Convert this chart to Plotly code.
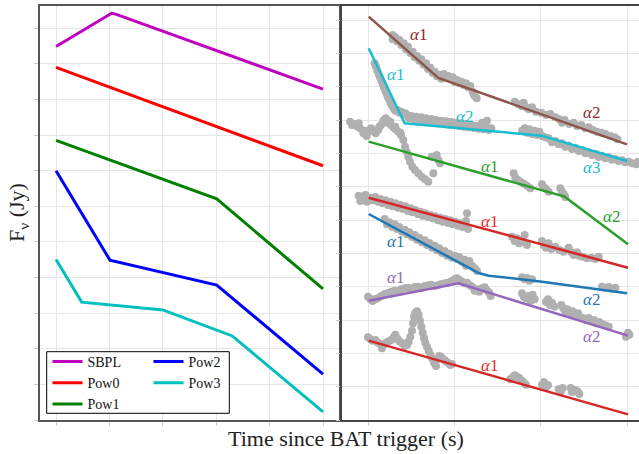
import plotly.graph_objects as go

# ---------------- Left panel: model light-curve shapes ----------------
sbpl_t = [0, 0.95, 1.04, 1.13, 5]
sbpl_f = [10.49, 11.36, 11.42, 11.39, 9.29]
pow0_t = [0, 5]
pow0_f = [9.90, 7.14]
pow1_t = [0, 3.01, 5]
pow1_f = [7.85, 6.21, 3.68]
pow2_t = [0, 1.01, 3.01, 5]
pow2_f = [7.00, 4.49, 3.79, 1.29]
pow3_t = [0, 0.48, 2.0, 3.30, 5]
pow3_f = [4.51, 3.31, 3.09, 2.36, 0.23]

# ---------------- Right panel: observed light curves (arbitrary units) ----------------
brown_dt = [152,152,160,165,172,178,185,192,198,205,212,218,225,232,238,245,252,258,265,272,278,285,292,298,305,312,318,325,332,338,345,352,358,365,372,378,385,392,398,404,395,
            518,528,538,545,552,560,570,582,598,612,625,640,652,660,668,682,695,705,718,730,740,752,765,778,790,805,818,826]
brown_df = [1155,1142,1148,1136,1140,1125,1130,1112,1120,1101,1105,1088,1092,1078,1082,1066,1070,1053,1057,1041,1045,1031,1035,1024,1038,1028,1032,1022,1028,1014,1020,1010,1015,1005,1010,998,1002,985,972,965,978,
            955,948,942,952,938,932,938,925,922,915,918,908,902,892,900,888,892,882,885,875,878,870,865,862,858,852,848,842]

cyan_dt = [98,102,106,110,114,118,122,126,130,134,138,142,146,150,155,160,166,172,178,184,190,
           195,200,208,215,222,230,238,245,252,260,268,275,282,290,298,305,312,320,328,335,342,350,358,365,372,380,388,395,402,410,418,425,432,440,448,435,420,
           540,548,555,562,570,578,585,592,600,610,620,
           630,640,650,660,670,680,690,700,710,720,730,740,750,760,770,780,790,800,810,820,830,840,850,860,870,882,888]
cyan_df = [1070,1060,1048,1038,1028,1018,1008,998,988,978,968,960,950,942,935,928,930,922,925,918,920,
           915,905,912,902,910,900,908,898,905,895,903,893,900,890,898,888,896,886,894,885,892,882,890,880,888,878,885,876,883,874,880,872,878,870,875,898,892,
           868,875,862,872,858,868,855,865,852,848,845,
           833,837,827,830,820,823,813,817,807,810,800,803,795,798,789,793,785,788,781,783,777,779,773,775,770,767,775]

green_dt = [24,34,44,54,64,74,79,87,94,101,109,117,124,131,139,147,154,161,169,177,184,189,194,199,204,211,219,229,239,249,259,269,274,284,289,294,
            30,50,70,90,112,128,145,160,175,
            515,520,528,535,545,555,565,600,605,612,620,655,660,665,670]
green_df = [895,888,882,875,860,852,865,875,868,860,870,885,898,905,898,885,878,872,865,855,840,820,805,790,775,760,750,740,730,722,715,790,740,795,780,770,
            885,890,868,870,880,892,895,880,862,
            740,727,720,715,709,703,695,707,699,693,685,695,685,677,669]

redu_dt = [50,55,62,70,75,85,92,100,108,115,122,130,138,145,152,160,168,175,182,190,198,205,212,220,228,235,242,250,258,265,272,280,288,295,302,310,318,325,332,340,348,355,362,370,375,378,372,
           510,518,525,532,540,548,555,600,605,612,620,628,640,652,665,680,688,695,705,712,722,735,748,760,770]
redu_df = [673,657,665,675,655,667,659,669,655,663,650,659,645,655,641,650,637,645,633,641,627,635,623,630,617,625,613,620,609,615,605,611,599,607,595,603,591,599,587,595,583,590,579,585,620,573,597,
           550,537,545,530,537,555,525,537,525,517,530,513,520,510,505,517,503,495,503,493,490,485,487,483,490]

blue_dt = [128,135,142,150,158,165,172,180,188,195,202,210,218,225,232,240,248,255,262,270,278,285,292,300,308,315,322,330,338,345,352,360,368,375,382,390,398,405,372,
           540,548,555,562,570,780,790,800,810,820]
blue_df = [603,587,593,580,587,573,579,565,571,557,563,549,555,541,547,533,539,525,531,517,523,509,515,501,507,493,499,487,493,483,489,475,481,470,477,463,455,447,463,
           428,422,426,418,422,400,396,399,394,397]

purple_dt = [78,85,92,100,108,118,128,138,148,158,168,178,188,198,208,218,228,238,248,258,268,278,288,298,308,318,328,338,345,352,360,368,375,382,390,398,405,412,420,428,436,442,446,
             540,545,552,560,566,572,578,612,618,624,630,638,658,664,670,676,684,692,700,708,716,724,732,740,748,756,764,772,780,790,800,852,858,862]
purple_df = [370,363,357,362,366,372,378,381,385,388,387,392,395,397,393,399,400,397,402,404,406,402,404,408,410,412,416,422,425,420,415,410,412,405,400,388,392,385,395,398,388,382,372,
             380,370,365,372,358,376,362,355,362,345,352,340,345,335,325,332,320,326,315,320,308,305,300,306,296,300,290,294,288,284,280,250,262,256]

redl_dt = [78,85,92,100,108,115,120,125,132,140,148,155,160,166,172,180,188,195,200,205,210,213,216,220,225,230,234,238,242,246,250,255,260,265,270,276,282,286,292,298,304,310,318,325,330,
           505,512,518,525,532,540,546,552,600,606,612,618,650,656,662,686,690,698,706,712]
redl_df = [248,242,238,240,232,228,215,226,232,236,240,248,256,244,236,230,222,225,235,250,268,290,310,322,326,316,298,280,262,246,232,220,208,196,186,172,162,182,192,188,182,178,172,165,168,
           122,128,134,130,126,118,112,106,106,114,98,104,92,84,96,96,84,90,86,78]

# fitted broken power laws (right panel)
brown_fit_t = [80, 289, 855]
brown_fit_f = [1210, 1026, 827]
cyan_fit_t = [80, 188, 599, 855]
cyan_fit_f = [1115, 890, 853, 777]
green_fit_t = [80, 668, 858]
green_fit_f = [835, 670, 527]
redu_fit_t = [80, 858]
redu_fit_f = [667, 457]
blue_fit_t = [80, 380, 410, 440, 480, 600, 855]
blue_fit_f = [618, 458, 441, 433, 428, 415, 380]
purple_fit_t = [80, 350, 858]
purple_fit_f = [358, 410, 253]
redl_fit_t = [80, 858]
redl_fit_f = [238, 17]

# slope labels
label_text = ["α1", "α2", "α1", "α2", "α3", "α1", "α2", "α1", "α1", "α2", "α1", "α2", "α1"]
label_t = [231, 748, 162, 368, 748, 443, 808, 443, 160, 748, 161, 748, 443]
label_f = [1157, 923, 1038, 910, 758, 760, 612, 597, 535, 363, 427, 250, 163]
label_color = ["#8c2a2a", "#8c2a2a", "#17becf", "#17becf", "#17becf", "#2ca02c", "#2ca02c",
               "#e82a2a", "#1f77b4", "#1f77b4", "#9467bd", "#9467bd", "#e82a2a"]

FONT = "Liberation Serif"
fig = go.Figure()

# left panel lines
left_series = [
    ("SBPL", sbpl_t, sbpl_f, "#bf00bf", "legend"),
    ("Pow0", pow0_t, pow0_f, "#ff0000", "legend"),
    ("Pow1", pow1_t, pow1_f, "#008000", "legend"),
    ("Pow2", pow2_t, pow2_f, "#0000ff", "legend2"),
    ("Pow3", pow3_t, pow3_f, "#00bfbf", "legend2"),
]
for name, t, f, c, lg in left_series:
    fig.add_trace(go.Scatter(x=t, y=f, mode="lines", name=name, line=dict(color=c, width=3),
                             xaxis="x", yaxis="y", legend=lg, showlegend=True))

# right panel data clouds
clouds = [(brown_dt, brown_df), (cyan_dt, cyan_df), (green_dt, green_df), (redu_dt, redu_df),
          (blue_dt, blue_df), (purple_dt, purple_df), (redl_dt, redl_df)]
for t, f in clouds:
    fig.add_trace(go.Scatter(x=t, y=f, mode="markers",
                             marker=dict(color="rgb(176,176,176)", size=8, line=dict(width=0)),
                             xaxis="x2", yaxis="y2", showlegend=False, hoverinfo="skip"))

fits = [(brown_fit_t, brown_fit_f, "#8c564b"), (cyan_fit_t, cyan_fit_f, "#17becf"),
        (green_fit_t, green_fit_f, "#2ca02c"), (redu_fit_t, redu_fit_f, "#d62728"),
        (blue_fit_t, blue_fit_f, "#1f77b4"), (purple_fit_t, purple_fit_f, "#9467bd"),
        (redl_fit_t, redl_fit_f, "#d62728")]
for t, f, c in fits:
    fig.add_trace(go.Scatter(x=t, y=f, mode="lines", line=dict(color=c, width=2.5),
                             xaxis="x2", yaxis="y2", showlegend=False))

W, H = 639, 454
ydom = [1 - 420 / H, 1 - 5.5 / H]
grid = "#e6e6e6"
common = dict(showticklabels=False, ticks="outside", ticklen=4, tickcolor="#cccccc",
              showgrid=True, gridcolor=grid, gridwidth=1, zeroline=False)

annotations = []
for txt, t, f, c in zip(label_text, label_t, label_f, label_color):
    annotations.append(dict(x=t, y=f, xref="x2", yref="y2", showarrow=False,
                            xanchor="center", yanchor="middle",
                            text="<i>" + txt[0] + "</i>" + txt[1:],
                            font=dict(family=FONT, size=17, color=c)))
annotations.append(dict(x=346 / W, y=1 - 438 / H, xref="paper", yref="paper", showarrow=False,
                        xanchor="center", yanchor="middle",
                        text="Time since BAT trigger (s)", font=dict(family=FONT, size=22, color="#222")))
annotations.append(dict(x=18 / W, y=1 - 213 / H, xref="paper", yref="paper", showarrow=False,
                        xanchor="center", yanchor="middle",
                        textangle=-90, text="F<sub>ν</sub> (Jy)", font=dict(family=FONT, size=22, color="#222")))

shapes = [
    dict(type="rect", xref="paper", yref="paper", x0=46.7 / W, x1=229.3 / W,
         y0=1 - 413.3 / H, y1=1 - 351.7 / H, line=dict(color="black", width=1),
         fillcolor="white", layer="above"),
]

fig.update_layout(
    width=W, height=H, margin=dict(l=0, r=0, t=0, b=0),
    paper_bgcolor="white", plot_bgcolor="white",
    font=dict(family=FONT, color="#222"),
    xaxis=dict(domain=[40 / W, 339.3 / W], range=[-0.3, 5.305], tick0=0, dtick=1,
               showline=True, linecolor="#555", linewidth=1.5, mirror=True, anchor="y", **common),
    yaxis=dict(domain=ydom, range=[0, 11.64], tick0=0, dtick=1,
               showline=True, linecolor="#555", linewidth=1.5, mirror=True, anchor="x", **common),
    xaxis2=dict(domain=[342 / W, 1.0], range=[0, 891], tick0=80, dtick=258.33,
                showline=True, linecolor="#444", linewidth=1.5, mirror=True, anchor="y2", **common),
    yaxis2=dict(domain=ydom, range=[0, 1243.5], tick0=0, dtick=100,
                showline=True, linecolor="#444", linewidth=1.5, mirror=False, anchor="x2", **common),
    legend=dict(x=47.5 / W, y=1 - 346 / H, xanchor="left", yanchor="top", bgcolor="rgba(0,0,0,0)",
                borderwidth=0, font=dict(family=FONT, size=14, color="#111"), tracegroupgap=0),
    legend2=dict(x=148.5 / W, y=1 - 346 / H, xanchor="left", yanchor="top", bgcolor="rgba(0,0,0,0)",
                 borderwidth=0, font=dict(family=FONT, size=14, color="#111"), tracegroupgap=0),
    annotations=annotations, shapes=shapes,
)

fig.write_html("out.html")
